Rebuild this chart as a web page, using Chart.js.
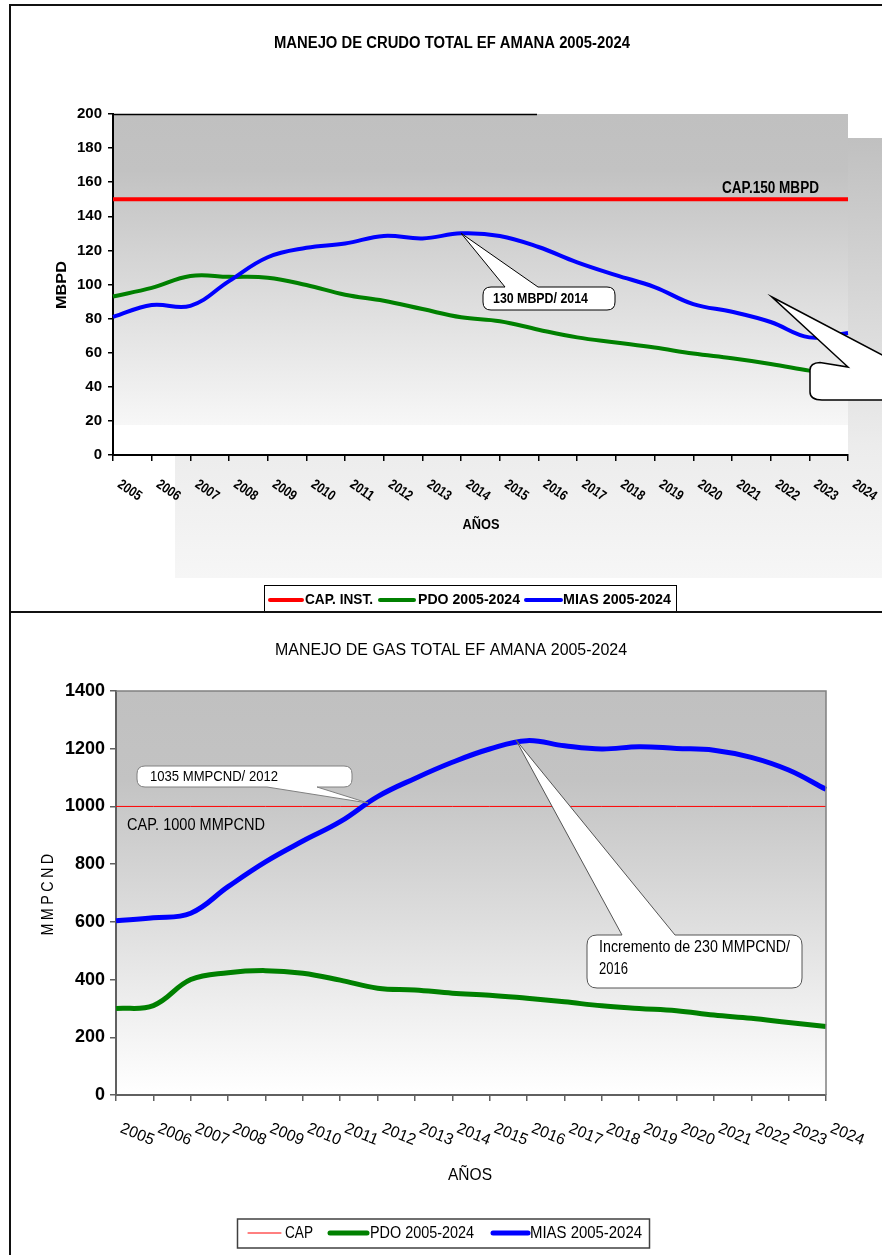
<!DOCTYPE html>
<html><head><meta charset="utf-8">
<script src="https://cdn.jsdelivr.net/npm/chart.js@4.4.1/dist/chart.umd.min.js"></script>
<style>
html,body{margin:0;padding:0;background:#fff;}
#wrap{position:relative;width:882px;height:1255px;overflow:hidden;background:#fff;}
canvas{position:absolute;left:0;}
#c1{top:0;width:882px;height:612px;}
#c2{top:612px;width:882px;height:643px;}
.ln{position:absolute;background:#111;}
</style></head><body>
<div id="wrap">
<canvas id="c1" width="882" height="612"></canvas>
<canvas id="c2" width="882" height="643"></canvas>
<div class="ln" style="left:9px;top:4px;width:873px;height:2px"></div>
<div class="ln" style="left:9px;top:4px;width:2px;height:1251px"></div>
<div class="ln" style="left:9px;top:611px;width:873px;height:2px"></div>
</div>
<script>
// ---------- DATA ----------
const years = ['2005','2006','2007','2008','2009','2010','2011','2012','2013','2014','2015','2016','2017','2018','2019','2020','2021','2022','2023','2024'];
const crudoCapInst = [150,150,150,150,150,150,150,150,150,150,150,150,150,150,150,150,150,150,150,150];
const crudoPDO  = [93, 98, 105, 104.5, 104, 99.7, 94, 90.5, 85.6, 80.8, 78.5, 73.5, 69, 66, 63, 59.5, 56.7, 53.4, 49.5, 46];
const crudoMIAS = [81, 88, 87.5, 102, 116, 121.5, 124, 128.5, 127, 130, 128.5, 122, 113, 105.5, 98.5, 88.5, 84, 78, 69, 71.5];
const gasCap  = [1000,1000,1000,1000,1000,1000,1000,1000,1000,1000,1000,1000,1000,1000,1000,1000,1000,1000,1000,1000];
const gasPDO  = [300, 310, 400, 424, 431, 422, 398, 370, 364, 353, 346, 335, 323, 309, 300, 292, 277, 266, 251, 237];
const gasMIAS = [604, 614, 630, 722, 808, 880, 947, 1034, 1097, 1153, 1199, 1228, 1210, 1199, 1207, 1201, 1195, 1170, 1126, 1059];

const FONT = "'Liberation Sans',Arial,Helvetica,sans-serif";

// ---------- helpers ----------
function txt(ctx, s, x, y, font, w, align, color, rot, spacing){
  ctx.save();
  ctx.font = font; ctx.fillStyle = color || '#000'; ctx.textBaseline = 'middle'; ctx.textAlign = 'left';
  if (spacing) ctx.letterSpacing = spacing;
  const m = ctx.measureText(s).width;
  const sx = w ? w / m : 1;
  ctx.translate(x, y);
  if (rot) ctx.rotate(rot);
  const tw = m * sx;
  const x0 = align === 'center' ? -tw/2 : align === 'right' ? -tw : 0;
  ctx.translate(x0, 0);
  ctx.scale(sx, 1);
  ctx.fillText(s, 0, 0);
  ctx.restore();
}
function callout(ctx, x, y, w, h, r, side, b1, b2, tx, ty, stroke, lw){
  ctx.save();
  ctx.beginPath();
  ctx.moveTo(x + r, y);
  if (side === 'top'){ ctx.lineTo(b1, y); ctx.lineTo(tx, ty); ctx.lineTo(b2, y); }
  ctx.lineTo(x + w - r, y);
  ctx.quadraticCurveTo(x + w, y, x + w, y + r);
  ctx.lineTo(x + w, y + h - r);
  ctx.quadraticCurveTo(x + w, y + h, x + w - r, y + h);
  if (side === 'bottom'){ ctx.lineTo(b2, y + h); ctx.lineTo(tx, ty); ctx.lineTo(b1, y + h); }
  ctx.lineTo(x + r, y + h);
  ctx.quadraticCurveTo(x, y + h, x, y + h - r);
  ctx.lineTo(x, y + r);
  ctx.quadraticCurveTo(x, y, x + r, y);
  ctx.closePath();
  ctx.fillStyle = '#fff'; ctx.fill();
  ctx.strokeStyle = stroke; ctx.lineWidth = lw; ctx.stroke();
  ctx.restore();
}
function xLabels(chart, font, dx, y, deg, w){
  const ctx = chart.ctx, xs = chart.scales.x;
  chart.data.labels.forEach((lab, i) => {
    const px = xs.getPixelForValue(i);
    txt(ctx, lab, px + dx, y, font, w, 'left', '#000', deg * Math.PI / 180);
  });
}

// ---------- TOP CHART ----------
const decorTop = {
  id: 'decorTop',
  beforeDraw(chart){
    const {ctx, chartArea: a} = chart;
    ctx.save();
    let g = ctx.createLinearGradient(0, 138, 0, 578);
    g.addColorStop(0, '#c0c0c0'); g.addColorStop(0.7, '#ececec'); g.addColorStop(1, '#f6f6f6');
    ctx.fillStyle = g; ctx.fillRect(175, 138, 707, 440);
    const yw = 425;
    g = ctx.createLinearGradient(0, a.top, 0, yw);
    g.addColorStop(0, '#c0c0c0'); g.addColorStop(0.18, '#c2c2c2'); g.addColorStop(1, '#f7f7f7');
    ctx.fillStyle = g; ctx.fillRect(a.left, a.top, a.right - a.left, yw - a.top);
    ctx.fillStyle = '#fff'; ctx.fillRect(a.left, yw, a.right - a.left, a.bottom - yw);
    ctx.restore();
  },
  afterDatasetsDraw(chart){
    const ctx = chart.ctx, xs = chart.scales.x, ys = chart.scales.y;
    const tx = xs.getPixelForValue(9), ty = ys.getPixelForValue(crudoMIAS[9]);
    callout(ctx, 483, 287, 132, 23, 8, 'top', 505, 538, tx, ty, '#000', 1);
    txt(ctx, '130 MBPD/ 2014', 493, 299, 'bold 14px ' + FONT, 95);
    ctx.save();
    ctx.beginPath();
    ctx.moveTo(772, 297);
    ctx.lineTo(884, 356);
    ctx.lineTo(884, 400);
    ctx.lineTo(822, 400);
    ctx.quadraticCurveTo(810, 400, 810, 392);
    ctx.lineTo(810, 370);
    ctx.quadraticCurveTo(810, 363, 820, 362.5);
    ctx.lineTo(848, 367);
    ctx.closePath();
    ctx.fillStyle = '#fff'; ctx.fill();
    ctx.strokeStyle = '#000'; ctx.lineWidth = 1.5; ctx.stroke();
    ctx.restore();
  },
  afterDraw(chart){
    const ctx = chart.ctx, a = chart.chartArea;
    ctx.save();
    ctx.strokeStyle = '#000'; ctx.lineWidth = 1.5;
    ctx.beginPath(); ctx.moveTo(a.left, a.top + 0.5); ctx.lineTo(537, a.top + 0.5); ctx.stroke();
    ctx.restore();
    txt(ctx, 'MANEJO DE CRUDO TOTAL EF AMANA 2005-2024', 452, 44, 'bold 16px ' + FONT, 356, 'center');
    txt(ctx, 'CAP.150 MBPD', 722, 189, 'bold 16px ' + FONT, 97);
    txt(ctx, 'MBPD', 62, 285, 'bold 15px ' + FONT, 48, 'center', '#000', -Math.PI/2);
    txt(ctx, 'AÑOS', 481, 525, 'bold 15px ' + FONT, 37, 'center');
    xLabels(chart, 'bold 14px ' + FONT, 6, 483, 35, 26);
    // legend
    ctx.save();
    ctx.strokeStyle = '#000'; ctx.lineWidth = 1;
    ctx.strokeRect(264.5, 585.5, 412, 27);
    const items = [['CAP. INST.', '#ff0000', 270, 302, 305, 68], ['PDO 2005-2024', '#008000', 380, 414, 418, 102], ['MIAS 2005-2024', '#0000ff', 526, 561, 563, 108]];
    items.forEach(it => {
      ctx.strokeStyle = it[1]; ctx.lineWidth = 4; ctx.lineCap = 'round';
      ctx.beginPath(); ctx.moveTo(it[2], 600); ctx.lineTo(it[3], 600); ctx.stroke();
      txt(ctx, it[0], it[4], 600, 'bold 15px ' + FONT, it[5]);
    });
    ctx.restore();
  }
};

new Chart(document.getElementById('c1'), {
  type: 'line',
  data: {
    labels: years,
    datasets: [
      {label: 'CAP. INST.', data: crudoCapInst, borderColor: '#ff0000', borderWidth: 4, pointRadius: 0, order: 2},
      {label: 'PDO 2005-2024', data: crudoPDO, borderColor: '#008000', borderWidth: 4, pointRadius: 0, tension: 0.4, order: 1},
      {label: 'MIAS 2005-2024', data: crudoMIAS, borderColor: '#0000ff', borderWidth: 4, pointRadius: 0, tension: 0.4, order: 0}
    ]
  },
  options: {
    responsive: false, animation: false, devicePixelRatio: 1,
    layout: {padding: {top: 114, right: 34, left: 0, bottom: 0}},
    plugins: {legend: {display: false}, tooltip: {enabled: false}, title: {display: false}},
    scales: {
      x: {
        offset: false,
        ticks: {display: false},
        grid: {drawOnChartArea: false, tickLength: 6, color: '#000', lineWidth: 1.5},
        border: {color: '#000', width: 2},
        afterFit: s => { s.width = s.width; s.height = 157; }
      },
      y: {
        min: 0, max: 200,
        ticks: {stepSize: 20, color: '#000', font: {family: FONT, size: 15, weight: 'bold'}, padding: 6, callback: v => String(v)},
        grid: {drawOnChartArea: false, tickLength: 5, color: '#000', lineWidth: 1.5},
        border: {color: '#000', width: 2},
        afterFit: s => { s.width = 113; }
      }
    }
  },
  plugins: [decorTop]
});

// ---------- BOTTOM CHART ----------
const decorBot = {
  id: 'decorBot',
  beforeDraw(chart){
    const {ctx, chartArea: a} = chart;
    ctx.save();
    const g = ctx.createLinearGradient(0, a.top, 0, a.bottom);
    g.addColorStop(0, '#c0c0c0'); g.addColorStop(0.22, '#c3c3c3'); g.addColorStop(0.55, '#dcdcdc'); g.addColorStop(0.8, '#f0f0f0'); g.addColorStop(1, '#ffffff');
    ctx.fillStyle = g; ctx.fillRect(a.left, a.top, a.right - a.left, a.bottom - a.top);
    ctx.restore();
  },
  afterDatasetsDraw(chart){
    const ctx = chart.ctx;
    callout(ctx, 137, 154, 215, 21, 8, 'bottom', 267, 317, 368, 191, '#808080', 1);
    txt(ctx, '1035 MMPCND/ 2012', 150, 165, '15px ' + FONT, 128);
    callout(ctx, 587, 323, 215, 53, 10, 'top', 622, 675, 516, 128, '#555', 1);
    txt(ctx, 'Incremento de 230 MMPCND/', 599, 336, '16px ' + FONT, 191);
    txt(ctx, '2016', 599, 358, '16px ' + FONT, 29);
  },
  afterDraw(chart){
    const ctx = chart.ctx, a = chart.chartArea;
    ctx.save();
    ctx.strokeStyle = '#808080'; ctx.lineWidth = 1.5;
    ctx.beginPath(); ctx.moveTo(a.left, a.top); ctx.lineTo(a.right, a.top); ctx.lineTo(a.right, a.bottom); ctx.stroke();
    ctx.restore();
    txt(ctx, 'MANEJO DE GAS TOTAL EF AMANA 2005-2024', 451, 39, '16px ' + FONT, 352, 'center');
    txt(ctx, 'CAP. 1000 MMPCND', 127, 213, '17px ' + FONT, 138);
    txt(ctx, 'MMPCND', 48, 281, '17px ' + FONT, 85, 'center', '#000', -Math.PI/2, '4px');
    txt(ctx, 'AÑOS', 470, 563, '17px ' + FONT, 44, 'center');
    xLabels(chart, '16px ' + FONT, 5, 516, 22, 35);
    // legend
    ctx.save();
    ctx.strokeStyle = '#404040'; ctx.lineWidth = 1.5;
    ctx.strokeRect(237.5, 607, 412, 29);
    const items = [['CAP', '#ff0000', 1, 248, 281, 285, 28], ['PDO 2005-2024', '#008000', 5, 330, 367, 370, 104], ['MIAS 2005-2024', '#0000ff', 5, 493, 528, 530, 112]];
    items.forEach(it => {
      ctx.strokeStyle = it[1]; ctx.lineWidth = it[2]; ctx.lineCap = 'round';
      ctx.beginPath(); ctx.moveTo(it[3], 621); ctx.lineTo(it[4], 621); ctx.stroke();
      txt(ctx, it[0], it[5], 621, '17px ' + FONT, it[6]);
    });
    ctx.restore();
  }
};

new Chart(document.getElementById('c2'), {
  type: 'line',
  data: {
    labels: years,
    datasets: [
      {label: 'CAP', data: gasCap, borderColor: '#ff0000', borderWidth: 1, pointRadius: 0, order: 2},
      {label: 'PDO 2005-2024', data: gasPDO, borderColor: '#008000', borderWidth: 5, pointRadius: 0, tension: 0.4, order: 1},
      {label: 'MIAS 2005-2024', data: gasMIAS, borderColor: '#0000ff', borderWidth: 5, pointRadius: 0, tension: 0.4, order: 0}
    ]
  },
  options: {
    responsive: false, animation: false, devicePixelRatio: 1,
    layout: {padding: {top: 79, right: 56, left: 0, bottom: 0}},
    plugins: {legend: {display: false}, tooltip: {enabled: false}, title: {display: false}},
    scales: {
      x: {
        offset: false,
        ticks: {display: false},
        grid: {drawOnChartArea: false, tickLength: 6, color: '#606060', lineWidth: 1.5},
        border: {color: '#606060', width: 2},
        afterFit: s => { s.height = 160; }
      },
      y: {
        min: 0, max: 1400,
        ticks: {stepSize: 200, color: '#000', font: {family: FONT, size: 18, weight: 'bold'}, padding: 5, callback: v => String(v)},
        grid: {drawOnChartArea: false, tickLength: 6, color: '#606060', lineWidth: 1.5},
        border: {color: '#606060', width: 2},
        afterFit: s => { s.width = 116; }
      }
    }
  },
  plugins: [decorBot]
});
</script>
</body></html>
